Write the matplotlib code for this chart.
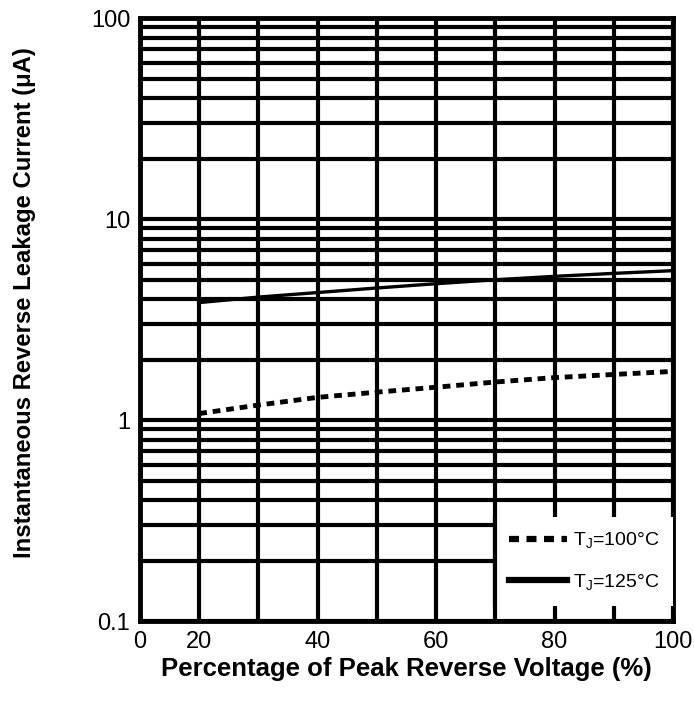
import matplotlib.pyplot as plt
import numpy as np

# percentage of peak reverse voltage
voltage = [20, 30, 40, 50, 60, 70, 80, 90, 100]
# leakage current (uA)
tj100 = [1.08, 1.19, 1.30, 1.38, 1.46, 1.55, 1.63, 1.69, 1.75]
tj125 = [3.85, 4.10, 4.32, 4.55, 4.78, 5.00, 5.20, 5.38, 5.55]

xticks = [10, 20, 40, 60, 80, 100]
xticklabels = ['0', '20', '40', '60', '80', '100']
yticks = [0.1, 1, 10, 100]
yticklabels = ['0.1', '1', '10', '100']

plt.rcParams['font.family'] = ['Liberation Sans', 'DejaVu Sans']

fig = plt.figure(figsize=(6.94, 7.02), dpi=100)
ax = fig.add_axes([0.2017, 0.115, 0.768, 0.859])

ax.set_yscale('log')
ax.set_xlim(10, 100)
ax.set_ylim(0.1, 100)

# grid: every 10% and every log minor step
ax.set_xticks(np.arange(10, 101, 10), minor=True)
ax.set_xticks(xticks)
ax.set_xticklabels(xticklabels, fontsize=17)
ax.set_yticks(yticks)
ax.set_yticklabels(yticklabels, fontsize=17)
ax.yaxis.set_minor_locator(plt.matplotlib.ticker.LogLocator(base=10, subs=np.arange(2, 10)))
ax.yaxis.set_minor_formatter(plt.NullFormatter())
ax.grid(True, which='both', color='black', linewidth=3)
ax.tick_params(which='both', length=0, pad=7)

for s in ax.spines.values():
    s.set_linewidth(3.5)

ax.plot(voltage, tj100, color='black', linewidth=3.5, linestyle=(0, (1.6, 1.2)),
        label='T$_\\mathregular{J}$=100°C')
ax.plot(voltage, tj125, color='black', linewidth=2.4, label='T$_\\mathregular{J}$=125°C')

leg = ax.legend(loc='lower right', bbox_to_anchor=(1.0, 0.025), fontsize=14,
                fancybox=False, framealpha=1, edgecolor='none', handlelength=3.0,
                handletextpad=0.3, borderaxespad=0, labelspacing=1.1,
                borderpad=0.7)
for h in leg.get_lines():
    h.set_linewidth(4.5)

ax.set_xlabel('Percentage of Peak Reverse Voltage (%)', fontsize=18.5, fontweight='bold', labelpad=3)
ax.set_ylabel('Instantaneous Reverse Leakage Current (\u03bcA)', fontsize=17.2, fontweight='bold')
ax.yaxis.set_label_coords(-0.195, 0.528)

# legend box shows only a thick left border
fig.canvas.draw()
bb = leg.get_window_extent().transformed(ax.transAxes.inverted())
ax.plot([bb.x0, bb.x0], [bb.y0, bb.y1], transform=ax.transAxes, color='black',
        linewidth=3, solid_capstyle='butt', zorder=6)

plt.savefig('out.png', dpi=100)
